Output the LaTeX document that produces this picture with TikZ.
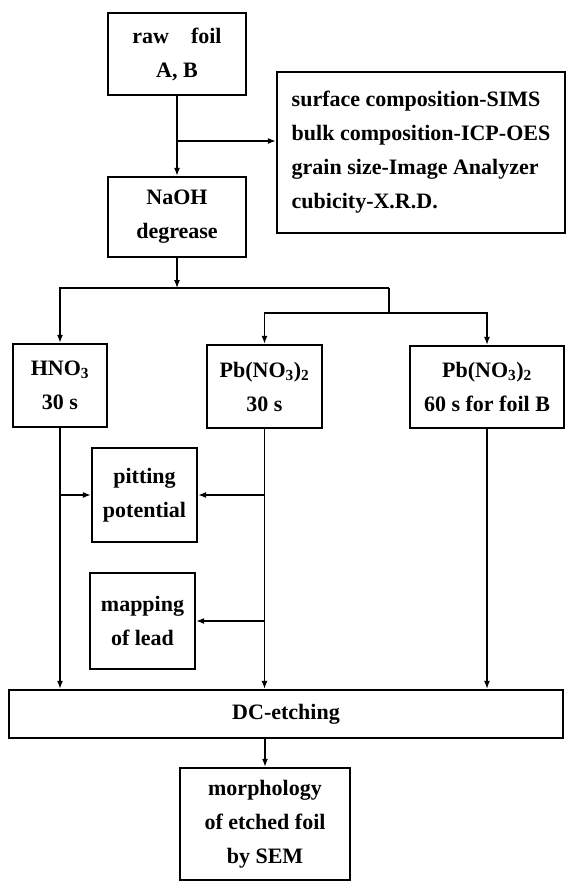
\documentclass[tikz,border=0pt]{standalone}
\usepackage{fontspec}
\setmainfont{Liberation Serif}
\usetikzlibrary{arrows.meta}

\tikzset{
  stage/.style={draw, line width=2.4pt, inner sep=0pt, align=center,
    font=\fontsize{22}{34}\selectfont\bfseries},
  link/.style={line width=1.2pt}
}

\begin{document}
\begin{tikzpicture}[x=1pt, y=-1pt, >={Latex[length=8pt,width=6pt]}]
  \useasboundingbox (0,0) rectangle (567,882);
  % Top: raw foil, analysis, degrease
  \node[stage, minimum width=138, minimum height=82] (raw) at (177,54) {raw\hspace{1em}foil\\A, B};
  \node[stage, minimum width=288, minimum height=161, align=left]
    (info) at (421,152.5) {surface composition-SIMS\\bulk composition-ICP-OES\\grain size-Image Analyzer\\cubicity-X.R.D.};
  \node[stage, minimum width=138, minimum height=80] (naoh) at (177,217) {NaOH\\degrease};
  % Pre-treatments
  \node[stage, minimum width=94, minimum height=83] (hno) at (60,385.5) {HNO\textsubscript{3}\\30 s};
  \node[stage, minimum width=115, minimum height=83] (pba) at (264.5,386.5) {Pb(NO\textsubscript{3})\textsubscript{2}\\30 s};
  \node[stage, minimum width=154, minimum height=82] (pbb) at (487,387) {Pb(NO\textsubscript{3})\textsubscript{2}\\60 s for foil B};
  % Measurements
  \node[stage, minimum width=105, minimum height=94] (pit) at (144.5,495) {pitting\\potential};
  \node[stage, minimum width=105, minimum height=96] (map) at (142.5,621) {mapping\\of lead};
  % Etching and SEM
  \node[stage, minimum width=554, minimum height=48] (dc) at (286,714) {DC-etching};
  \node[stage, minimum width=170, minimum height=112] (sem) at (265,824) {morphology\\of etched foil\\by SEM};

  \coordinate (br) at (177,141);
  \coordinate (top) at (177,288);
  \coordinate (mid) at (389,288);
  \coordinate (low) at (389,313);

  % Connectors
  \draw[link, ->] (raw) -- (naoh);
  \draw[link, ->] (br) -- (br -| info.west);
  \draw[link, ->] (naoh) -- (top);
  \draw[link, ->] (mid) -| (hno.north);
  \draw[link] (mid) -- (low);
  \draw[link, ->] (low) -| (pba.north);
  \draw[link, ->] (low) -| (pbb.north);
  \draw[link, ->] (hno.south) -- (hno.south |- dc.north);
  \draw[link, ->] (pba.south) -- (pba.south |- dc.north);
  \draw[link, ->] (pbb.south) -- (pbb.south |- dc.north);
  \draw[link, ->] (hno.south |- pit.west) -- (pit.west);
  \draw[link, ->] (pba.south |- pit.east) -- (pit.east);
  \draw[link, ->] (pba.south |- map.east) -- (map.east);
  \draw[link, ->] (sem.north |- dc.south) -- (sem.north);
\end{tikzpicture}
\end{document}
